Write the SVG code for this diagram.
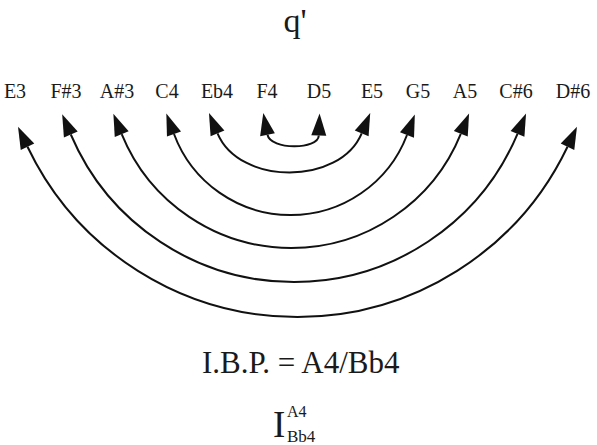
<svg xmlns="http://www.w3.org/2000/svg" width="597" height="445" viewBox="0 0 597 445">
<style>
text{font-family:"Liberation Serif","Times New Roman",serif;fill:#1a1a1a}
.lbl{font-size:20px;text-anchor:middle}
.arc{fill:none;stroke:#111;stroke-width:2;marker-start:url(#ahs);marker-end:url(#ahe)}
</style>
<defs>
<marker id="ahe" viewBox="-25 -10 50 20" markerWidth="50" markerHeight="20" refX="0" refY="0" orient="auto" markerUnits="userSpaceOnUse"><path d="M0,-7.5 L22,0 L0,7.5 Z" fill="#111"/></marker>
<marker id="ahs" viewBox="-25 -10 50 20" markerWidth="50" markerHeight="20" refX="0" refY="0" orient="auto" markerUnits="userSpaceOnUse"><path d="M0,-7.5 L-22,0 L0,7.5 Z" fill="#111"/></marker>
</defs>
<rect width="597" height="445" fill="#fff"/>
<text id="title" x="295" y="32" font-size="34" text-anchor="middle">q'</text>
<g id="n-E3"><text class="lbl" x="15" y="98">E3</text></g>
<g id="n-Fs3"><text class="lbl" x="66" y="98">F#3</text></g>
<g id="n-As3"><text class="lbl" x="117" y="98">A#3</text></g>
<g id="n-C4"><text class="lbl" x="167" y="98">C4</text></g>
<g id="n-Eb4"><text class="lbl" x="217" y="98">Eb4</text></g>
<g id="n-F4"><text class="lbl" x="267" y="98">F4</text></g>
<g id="n-D5"><text class="lbl" x="319" y="98">D5</text></g>
<g id="n-E5"><text class="lbl" x="372" y="98">E5</text></g>
<g id="n-G5"><text class="lbl" x="418" y="98">G5</text></g>
<g id="n-A5"><text class="lbl" x="465" y="98">A5</text></g>
<g id="n-Cs6"><text class="lbl" x="516" y="98">C#6</text></g>
<g id="n-Ds6"><text class="lbl" x="573" y="98">D#6</text></g>
<g id="connectors">
<path class="arc" d="M27.5,146.7 A299.2,299.2 0 0 0 567.5,146.7"/>
<path class="arc" d="M70.8,134.5 A242.6,242.6 0 0 0 517.5,133.8"/>
<path class="arc" d="M121.7,134.2 A183.1,183.1 0 0 0 460.8,133.8"/>
<path class="arc" d="M174,134 A124.5,124.5 0 0 0 407,135"/>
<path class="arc" d="M217.5,133.3 C239.5,185.6 339.7,185.6 361.7,133.3"/>
<path class="arc" d="M267.5,134.7 C270.5,150 318.3,150 318.8,135.5"/>
</g>
<text x="202" y="373" font-size="31">I.B.P. = A4/Bb4</text>
<text x="273" y="437" font-size="37">I</text>
<text x="287" y="417" font-size="16">A4</text>
<text x="287" y="442" font-size="17">Bb4</text>
</svg>
